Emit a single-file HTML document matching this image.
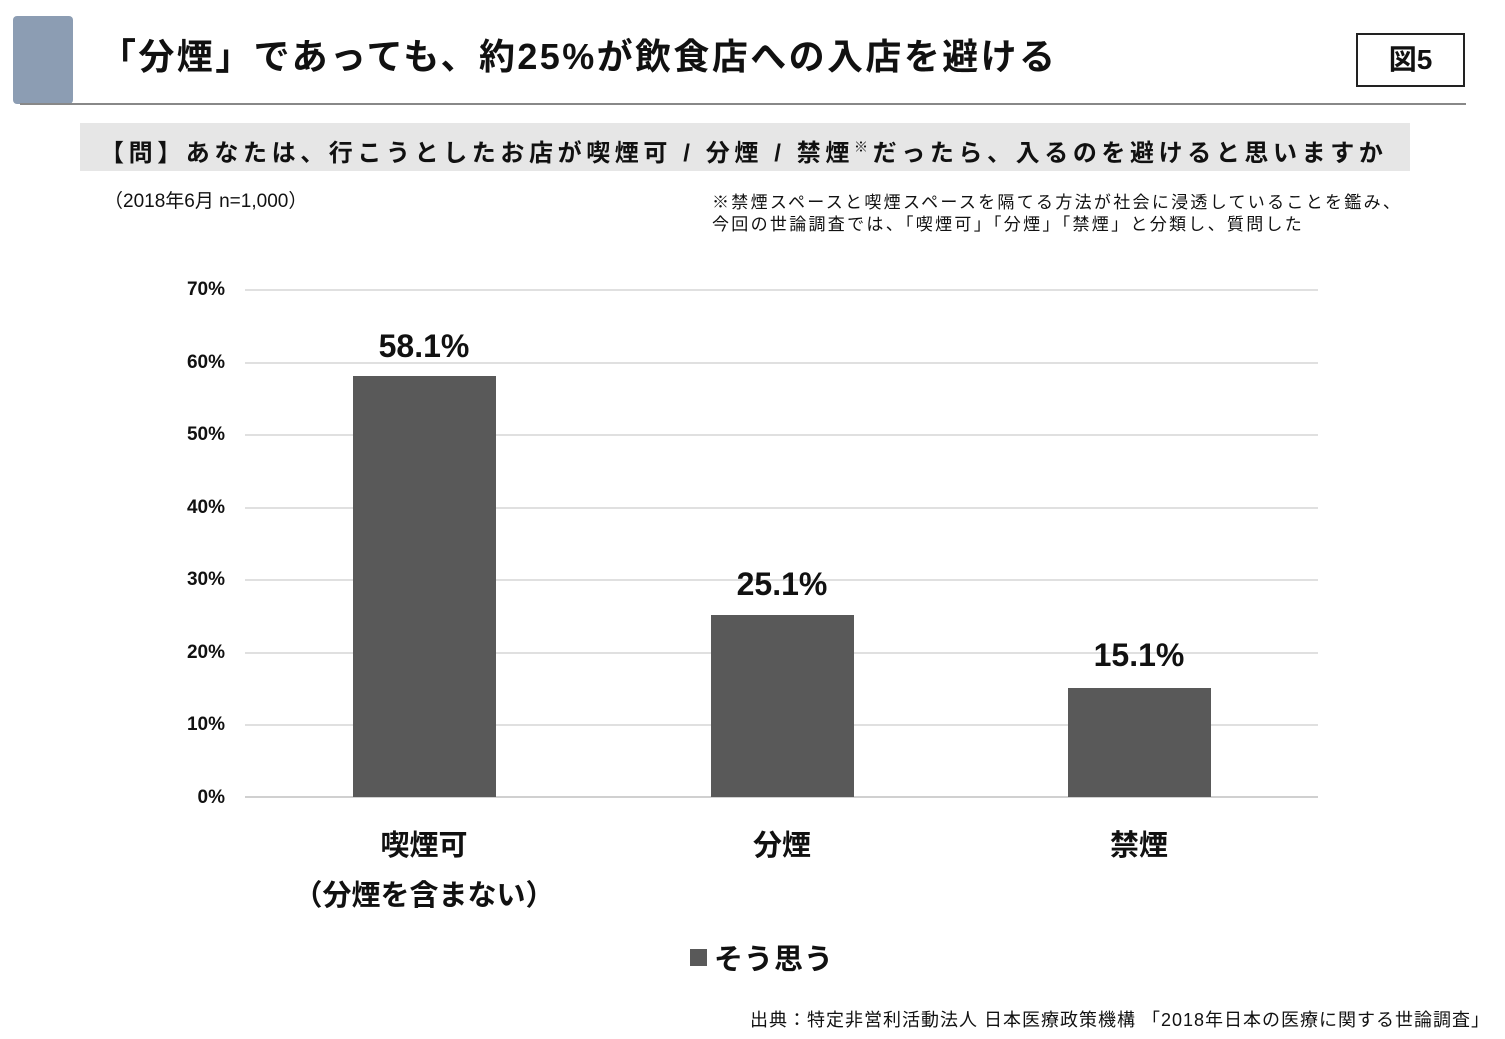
<!DOCTYPE html>
<html><head><meta charset="utf-8"><style>
body{margin:0;width:1505px;height:1039px;background:#fff;position:relative;overflow:hidden;font-family:"Liberation Sans","Noto Sans CJK JP",sans-serif;color:#111}
.a{position:absolute;white-space:nowrap}
.b{font-weight:bold}
.g{position:absolute;left:245px;width:1073px;height:2px;background:#e0e0e0}
.yl{position:absolute;left:170px;width:55px;text-align:right;font-size:19px;font-weight:bold;line-height:20px}
.bar{position:absolute;width:143px;background:#595959}
.v{position:absolute;width:200px;text-align:center;font-size:32px;font-weight:bold}
.c{position:absolute;width:300px;text-align:center;font-size:29px;font-weight:bold}
</style></head><body>
<div class="a" style="left:13px;top:16px;width:60px;height:88px;background:#8c9db3;border-radius:4px"></div>
<div class="a" style="left:20px;top:103px;width:1446px;height:2px;background:#888"></div>
<div class="a b" style="left:100px;top:34px;font-size:36px;line-height:46px;letter-spacing:2.4px">「分煙」であっても、約25%が飲食店への入店を避ける</div>
<div class="a b" style="left:1356px;top:33px;width:105px;height:50px;border:2px solid #222;text-align:center;font-size:28px;line-height:50px">図5</div>
<div class="a" style="left:80px;top:123px;width:1330px;height:48px;background:#e6e6e6"></div>
<div class="a b" style="left:100px;top:129px;font-size:24px;line-height:36px;letter-spacing:4.6px">【問】あなたは、行こうとしたお店が喫煙可 / 分煙 / 禁煙<sup style="font-size:14px">※</sup>だったら、入るのを避けると思いますか</div>
<div class="a" style="left:104px;top:186px;font-size:19px">（2018年6月 n=1,000）</div>
<div class="a" style="left:712px;top:192px;font-size:17px;line-height:22px;letter-spacing:2.3px">※禁煙スペースと喫煙スペースを隔てる方法が社会に浸透していることを鑑み、<br>今回の世論調査では、「喫煙可」「分煙」「禁煙」と分類し、質問した</div>
<div class="g" style="top:289px"></div><div class="g" style="top:362px"></div><div class="g" style="top:434px"></div><div class="g" style="top:507px"></div><div class="g" style="top:579px"></div><div class="g" style="top:652px"></div><div class="g" style="top:724px"></div><div class="g" style="top:796px;background:#d0d0d0"></div>
<div class="yl" style="top:280px">70%</div><div class="yl" style="top:353px">60%</div><div class="yl" style="top:425px">50%</div><div class="yl" style="top:498px">40%</div><div class="yl" style="top:570px">30%</div><div class="yl" style="top:643px">20%</div><div class="yl" style="top:715px">10%</div><div class="yl" style="top:788px">0%</div>
<div class="bar" style="left:353px;top:376px;height:421px"></div>
<div class="bar" style="left:711px;top:615px;height:182px"></div>
<div class="bar" style="left:1068px;top:688px;height:109px"></div>
<div class="v" style="left:324px;top:328px">58.1%</div>
<div class="v" style="left:682px;top:566px">25.1%</div>
<div class="v" style="left:1039px;top:637px">15.1%</div>
<div class="c" style="left:274px;top:822px">喫煙可</div>
<div class="c" style="left:274px;top:872px">（分煙を含まない）</div>
<div class="c" style="left:632px;top:822px">分煙</div>
<div class="c" style="left:989px;top:822px">禁煙</div>
<div class="a" style="left:690px;top:949px;width:17px;height:17px;background:#595959"></div>
<div class="a b" style="left:714px;top:936px;font-size:29px;letter-spacing:1px">そう思う</div>
<div class="a" style="left:750px;top:1006px;font-size:18px;letter-spacing:1px">出典：特定非営利活動法人 日本医療政策機構 「2018年日本の医療に関する世論調査」</div>
</body></html>
